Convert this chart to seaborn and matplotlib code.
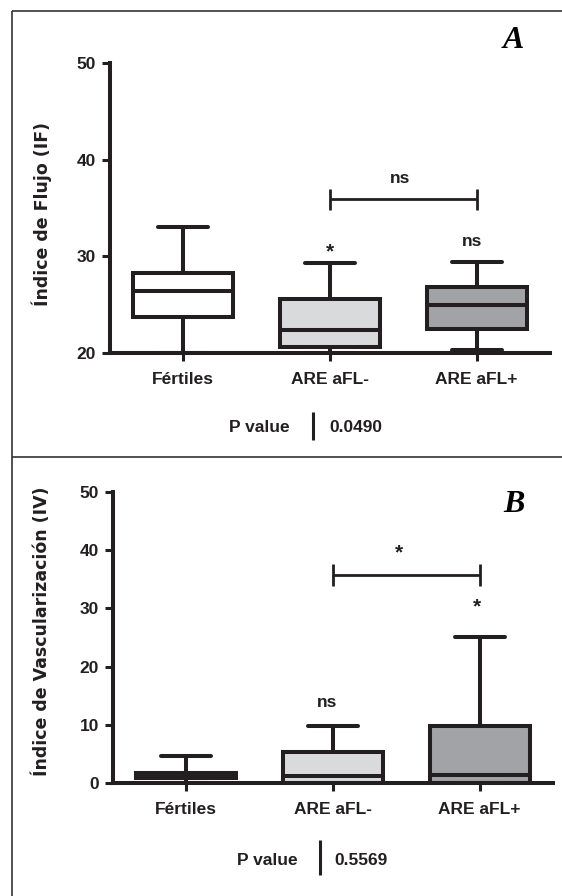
import matplotlib
matplotlib.use("Agg")
import numpy as np
import pandas as pd
import seaborn as sns
import matplotlib.pyplot as plt
from matplotlib.lines import Line2D

# ---------------- data (five-number summaries) ----------------
categories = ["Fértiles", "ARE aFL-", "ARE aFL+"]
# (min, Q1, median, Q3, max)
if_fertiles = [20.0, 23.75, 26.4, 28.3, 33.0]
if_are_neg = [20.0, 20.65, 22.4, 25.6, 29.3]
if_are_pos = [20.3, 22.45, 24.95, 26.8, 29.45]
iv_fertiles = [0.0, 0.9, 1.3, 1.75, 4.65]
iv_are_neg = [0.0, 0.0, 1.15, 5.3, 9.8]
iv_are_pos = [0.0, 0.0, 1.3, 9.8, 25.1]
if_ticks = [20, 30, 40, 50]
iv_ticks = [0, 10, 20, 30, 40, 50]
p_value_if = "0.0490"
p_value_iv = "0.5569"
box_colors = ["#ffffff", "#d9dadc", "#a2a3a6"]
ink = "#231f20"

def long_df(values):
    rows = []
    for cat, vals in zip(categories, values):
        for v in vals:
            rows.append({"grupo": cat, "valor": v})
    return pd.DataFrame(rows)

df_if = long_df([if_fertiles, if_are_neg, if_are_pos])
df_iv = long_df([iv_fertiles, iv_are_neg, iv_are_pos])

sns.set_style("ticks")
plt.rcParams["font.family"] = ["Liberation Sans", "DejaVu Sans"]
plt.rcParams["font.weight"] = "bold"

W, H = 562, 896
fig = plt.figure(figsize=(W / 100, H / 100), dpi=100)

def px_axes(left, top, right, bottom):
    return fig.add_axes([left / W, 1 - bottom / H, (right - left) / W, (bottom - top) / H])

axA = px_axes(110, 63, 550, 353)
axB = px_axes(113, 492, 553, 783)

def draw_panel(ax, df, ylim, ticks, ylabel, label_x, label_y):
    sns.boxplot(data=df, x="grupo", y="valor", hue="grupo", order=categories,
                hue_order=categories, palette=box_colors, saturation=1,
                whis=(0, 100), width=0.68, linecolor=ink, linewidth=2.9,
                legend=False, ax=ax)
    ax.set_xlim(-0.5, 2.5)
    ax.set_ylim(*ylim)
    ax.set_yticks(ticks)
    ax.set_yticklabels([str(t) for t in ticks])
    sns.despine(ax=ax)
    for s in ("left", "bottom"):
        ax.spines[s].set_linewidth(2.9)
        ax.spines[s].set_color(ink)
    ax.tick_params(axis="both", width=2.2, length=6, color=ink, labelsize=12.5,
                   labelcolor=ink)
    ax.tick_params(axis="y", pad=4)
    ax.tick_params(axis="x", pad=8)
    for lab in ax.get_xticklabels() + ax.get_yticklabels():
        lab.set_fontweight("bold")
    ax.set_xlabel("")
    ax.set_ylabel(ylabel, fontsize=12.5, fontweight="bold", color=ink,
                  family=["DejaVu Sans"])
    ax.yaxis.label.set_va("center")
    ax.yaxis.set_label_coords(label_x, label_y)

draw_panel(axA, df_if, (20, 50), if_ticks, "Índice de Flujo (IF)", -0.155, 0.48)
draw_panel(axB, df_iv, (0, 50), iv_ticks, "Índice de Vascularización (IV)", -0.161, 0.52)

def bracket(ax, x0, x1, y, h):
    ax.plot([x0, x1], [y, y], color=ink, lw=2.0, solid_capstyle="butt", clip_on=False)
    for xx in (x0, x1):
        ax.plot([xx, xx], [y - h, y + h], color=ink, lw=2.0, solid_capstyle="butt", clip_on=False)

txt = dict(ha="center", va="center", fontsize=12.5, fontweight="bold", color=ink)
star = dict(ha="center", va="center", fontsize=15, fontweight="bold", color=ink)

# Panel A annotations
bracket(axA, 1, 2, 35.9, 1.1)
axA.text(1.48, 38.1, "ns", **txt)
axA.text(1.0, 30.5, "*", **star)
axA.text(1.97, 31.5, "ns", **txt)

# Panel B annotations
bracket(axB, 1, 2, 35.7, 1.9)
axB.text(1.45, 39.6, "*", **star)
axB.text(1.98, 30.3, "*", **star)
axB.text(0.96, 13.8, "ns", **txt)

def ftext(x, y, s, **kw):
    fig.text(x / W, 1 - y / H, s, **kw)

def fline(x0, y0, x1, y1, lw, color=ink):
    fig.add_artist(Line2D([x0 / W, x1 / W], [1 - y0 / H, 1 - y1 / H],
                          transform=fig.transFigure, lw=lw, color=color,
                          solid_capstyle="butt"))

# P value rows
ftext(259, 427, "P value", **txt)
fline(313, 412, 313, 440, 2.2)
ftext(356, 427, p_value_if, **txt)

ftext(267, 860, "P value", **txt)
fline(320, 840, 320, 875, 2.2)
ftext(361, 860, p_value_iv, **txt)

# panel letters
letter = dict(ha="center", va="center", fontsize=23, fontweight="bold",
              fontstyle="italic", family=["Liberation Serif", "DejaVu Serif"], color="black")
ftext(513, 41, "A", **letter)
ftext(514, 504, "B", **letter)

# frame lines
fline(12, 11, W, 11, 1.2, "#333333")
fline(12, 11, 12, H, 1.2, "#333333")
fline(12, 457, W, 457, 1.2, "#333333")

fig.savefig("out.png", dpi=100)
